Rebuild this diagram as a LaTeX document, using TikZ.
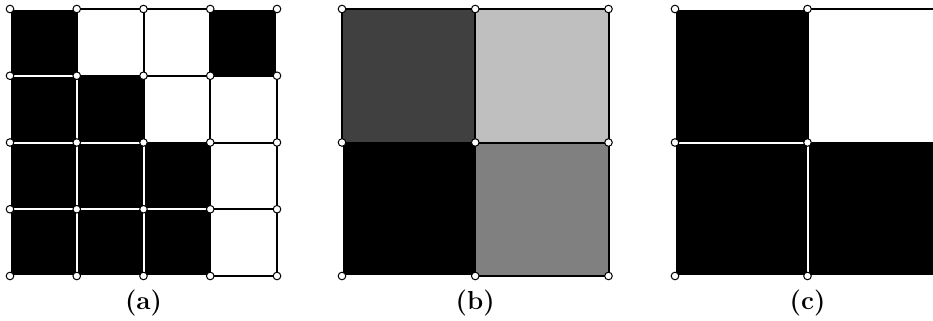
\documentclass[tikz,border=0pt]{standalone}
\usetikzlibrary{positioning}

\tikzset{
    vtx/.style={circle,draw=black,fill=white,line width=0.5pt,inner sep=0pt,minimum size=3.8pt},
    grid line/.style={line width=1pt,line cap=rect},
    caption/.style={font=\fontsize{13}{15}\selectfont\bfseries,inner sep=0pt},
}
\definecolor{darkcell}{gray}{0.25}
\definecolor{midcell}{gray}{0.5}
\definecolor{lightcell}{gray}{0.75}

\begin{document}
\begin{tikzpicture}[x=0.5pt,y=-0.5pt]
    \useasboundingbox (0,0) rectangle (933,321);

    % (a) 4x4 binary grid
    \begin{scope}[shift={(10,9)}]
        \foreach \i in {0,...,4}
            \foreach \j in {0,...,4}
                \coordinate (a\i\j) at (\i*66.75,\j*66.75);
        \foreach \i/\j/\c in {0/0/black,1/0/white,2/0/white,3/0/black,
                              0/1/black,1/1/black,2/1/white,3/1/white,
                              0/2/black,1/2/black,2/2/black,3/2/white,
                              0/3/black,1/3/black,2/3/black,3/3/white}
            \fill[\c] (a\i\j) rectangle ++(66.75,66.75);
        \foreach \i/\j in {0/0,3/0,0/1,1/1,0/2,1/2,2/2,0/3,1/3,2/3}
            \draw[grid line,white] (a\i\j) rectangle ++(66.75,66.75);
        \foreach \i/\j in {1/0,2/0,2/1,3/1,3/2,3/3}
            \draw[grid line,black] (a\i\j) rectangle ++(66.75,66.75);
        \foreach \i in {0,...,4}
            \foreach \j in {0,...,4}
                \node[vtx] (pa\i\j) at (a\i\j) {};
        \node[caption] (la) at (133.5,294) {(a)};
    \end{scope}

    % (b) 2x2 grey grid
    \begin{scope}[shift={(342,9)}]
        \foreach \i in {0,1,2}
            \foreach \j in {0,1,2}
                \coordinate (b\i\j) at (\i*133.25,\j*133.5);
        \foreach \i/\j/\c in {0/0/darkcell,1/0/lightcell,0/1/black,1/1/midcell}
            \fill[\c] (b\i\j) rectangle ++(133.25,133.5);
        \draw[grid line,white] (b01) rectangle ++(133.25,133.5);
        \foreach \i/\j in {0/0,1/0,1/1}
            \draw[grid line,black] (b\i\j) rectangle ++(133.25,133.5);
        \foreach \i in {0,1,2}
            \foreach \j in {0,1,2}
                \node[vtx] (pb\i\j) at (b\i\j) {};
        \node[caption] (lb) at (133.25,294) {(b)};
    \end{scope}

    % (c) 2x2 binary grid
    \begin{scope}[shift={(675,9)}]
        \foreach \i in {0,1,2}
            \foreach \j in {0,1,2}
                \coordinate (c\i\j) at (\i*132.5,\j*133.5);
        \foreach \i/\j/\c in {0/0/black,1/0/white,0/1/black,1/1/black}
            \fill[\c] (c\i\j) rectangle ++(132.5,133.5);
        \foreach \i/\j in {0/0,0/1,1/1}
            \draw[grid line,white] (c\i\j) rectangle ++(132.5,133.5);
        \draw[grid line,black] (c10) rectangle ++(132.5,133.5);
        \foreach \i in {0,1,2}
            \foreach \j in {0,1,2}
                \node[vtx] (pc\i\j) at (c\i\j) {};
        \node[caption] (lc) at (132.5,294) {(c)};
    \end{scope}

\end{tikzpicture}
\end{document}
